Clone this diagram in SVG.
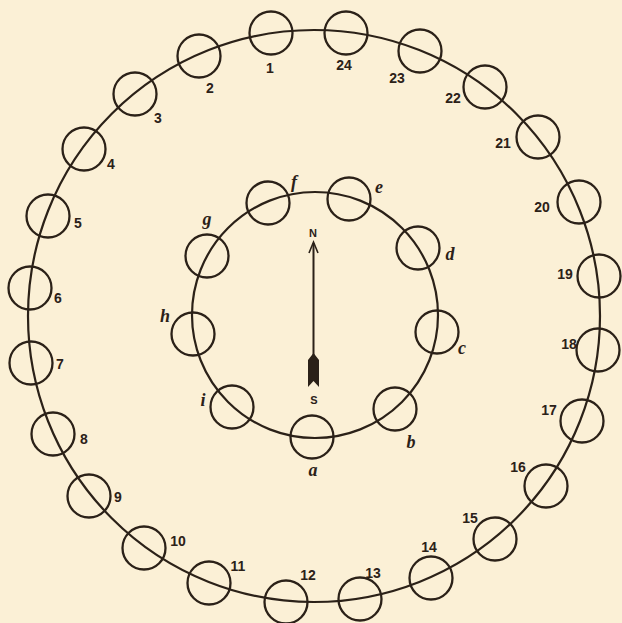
<svg xmlns="http://www.w3.org/2000/svg" width="622" height="623" viewBox="0 0 622 623">
<style>
.ring{fill:none;stroke:#2b2118;stroke-width:2.2}
.st{fill:none;stroke:#2b2118;stroke-width:2.3}
.n{font-family:"Liberation Sans",Arial,sans-serif;font-weight:bold;font-size:14px;fill:#2b2118;text-anchor:middle}
.l{font-family:"Liberation Serif","Times New Roman",serif;font-style:italic;font-weight:bold;font-size:18px;fill:#2b2118;text-anchor:middle}
.c{font-family:"Liberation Sans",Arial,sans-serif;font-weight:bold;font-size:11px;fill:#2b2118;text-anchor:middle}
</style>
<rect width="622" height="623" fill="#fbf0d6"/>
<g id="connectors">
<circle class="ring" cx="314" cy="316" r="286"/>
<circle class="ring" cx="315" cy="315" r="123"/>
</g>
<g id="stone-1"><circle class="st" cx="271" cy="33" r="21.5"/><text class="n" x="270" y="73">1</text></g>
<g id="stone-2"><circle class="st" cx="199" cy="56" r="21.5"/><text class="n" x="210" y="93">2</text></g>
<g id="stone-3"><circle class="st" cx="135" cy="94" r="21.5"/><text class="n" x="158" y="123">3</text></g>
<g id="stone-4"><circle class="st" cx="84" cy="149" r="21.5"/><text class="n" x="111" y="169">4</text></g>
<g id="stone-5"><circle class="st" cx="48" cy="216" r="21.5"/><text class="n" x="78" y="228">5</text></g>
<g id="stone-6"><circle class="st" cx="30" cy="288" r="21.5"/><text class="n" x="58" y="303">6</text></g>
<g id="stone-7"><circle class="st" cx="31" cy="363" r="21.5"/><text class="n" x="60" y="369">7</text></g>
<g id="stone-8"><circle class="st" cx="53" cy="434" r="21.5"/><text class="n" x="84" y="444">8</text></g>
<g id="stone-9"><circle class="st" cx="89" cy="496" r="21.5"/><text class="n" x="118" y="502">9</text></g>
<g id="stone-10"><circle class="st" cx="144" cy="548" r="21.5"/><text class="n" x="178" y="546">10</text></g>
<g id="stone-11"><circle class="st" cx="209" cy="583" r="21.5"/><text class="n" x="238" y="571">11</text></g>
<g id="stone-12"><circle class="st" cx="286" cy="602" r="21.5"/><text class="n" x="308" y="580">12</text></g>
<g id="stone-13"><circle class="st" cx="360" cy="599" r="21.5"/><text class="n" x="373" y="578">13</text></g>
<g id="stone-14"><circle class="st" cx="431" cy="578" r="21.5"/><text class="n" x="429" y="552">14</text></g>
<g id="stone-15"><circle class="st" cx="495" cy="539" r="21.5"/><text class="n" x="470" y="523">15</text></g>
<g id="stone-16"><circle class="st" cx="546" cy="486" r="21.5"/><text class="n" x="518" y="472">16</text></g>
<g id="stone-17"><circle class="st" cx="582" cy="421" r="21.5"/><text class="n" x="549" y="415">17</text></g>
<g id="stone-18"><circle class="st" cx="598" cy="350" r="21.5"/><text class="n" x="569" y="349">18</text></g>
<g id="stone-19"><circle class="st" cx="599" cy="276" r="21.5"/><text class="n" x="565" y="279">19</text></g>
<g id="stone-20"><circle class="st" cx="579" cy="202" r="21.5"/><text class="n" x="542" y="212">20</text></g>
<g id="stone-21"><circle class="st" cx="538" cy="137" r="21.5"/><text class="n" x="503" y="148">21</text></g>
<g id="stone-22"><circle class="st" cx="485" cy="87" r="21.5"/><text class="n" x="453" y="103">22</text></g>
<g id="stone-23"><circle class="st" cx="420" cy="51" r="21.5"/><text class="n" x="397" y="83">23</text></g>
<g id="stone-24"><circle class="st" cx="346" cy="33" r="21.5"/><text class="n" x="344" y="70">24</text></g>
<g id="stone-a"><circle class="st" cx="312" cy="437" r="21.5"/><text class="l" x="313" y="476">a</text></g>
<g id="stone-b"><circle class="st" cx="395" cy="409" r="21.5"/><text class="l" x="411" y="448">b</text></g>
<g id="stone-c"><circle class="st" cx="437" cy="332" r="21.5"/><text class="l" x="462" y="354">c</text></g>
<g id="stone-d"><circle class="st" cx="418" cy="248" r="21.5"/><text class="l" x="450" y="260">d</text></g>
<g id="stone-e"><circle class="st" cx="349" cy="199" r="21.5"/><text class="l" x="379" y="193">e</text></g>
<g id="stone-f"><circle class="st" cx="268" cy="203" r="21.5"/><text class="l" x="294" y="188">f</text></g>
<g id="stone-g"><circle class="st" cx="207" cy="256" r="21.5"/><text class="l" x="207" y="225">g</text></g>
<g id="stone-h"><circle class="st" cx="193" cy="334" r="21.5"/><text class="l" x="165" y="322">h</text></g>
<g id="stone-i"><circle class="st" cx="232" cy="407" r="21.5"/><text class="l" x="203" y="406">i</text></g>
<g id="compass">
<text class="c" x="313" y="237">N</text>
<line x1="313.5" y1="243" x2="313.5" y2="356" stroke="#2b2118" stroke-width="2"/>
<polyline points="309,253 313.5,242 318,253" fill="none" stroke="#2b2118" stroke-width="1.6"/>
<path d="M313.5,353 L319,360 L319,387 L313.5,381 L308,387 L308,360 Z" fill="#2b2118"/>
<text class="c" x="314" y="404">S</text>
</g>
</svg>
